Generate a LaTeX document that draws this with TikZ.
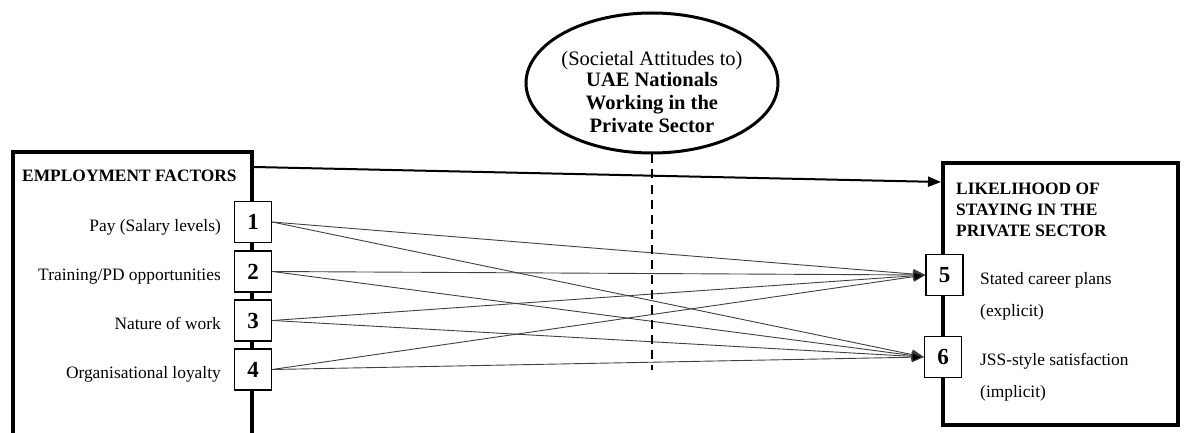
\documentclass[tikz,border=0pt]{standalone}
\usepackage{fontspec}
\setmainfont{Liberation Serif}
\usetikzlibrary{arrows.meta,shapes.geometric}
\begin{document}
\begin{tikzpicture}[x=1pt,y=-1pt,
  bigbox/.style={draw,line width=4pt,rectangle,inner sep=0pt},
  numbox/.style={draw,line width=1.5pt,fill=white,rectangle,minimum width=37pt,minimum height=41pt,inner sep=0pt,font=\fontsize{23}{23}\selectfont\bfseries},
  lbl/.style={font=\fontsize{17.4}{20}\selectfont,inner sep=0pt},
  ttl/.style={font=\fontsize{17.4}{21}\selectfont\bfseries,inner sep=0pt},
  eltxt/.style={font=\fontsize{20.5}{22.5}\selectfont,inner sep=0pt,anchor=base},
  link/.style={line width=0.9pt,black!75,-{Triangle[length=12pt,width=10pt,fill=black]}},
  mainarrow/.style={line width=2pt,-{Triangle[length=13pt,width=10pt]}},
  dashline/.style={line width=2.5pt,dash pattern=on 9pt off 6pt},
]
\useasboundingbox (0,0) rectangle (1189,433);
\clip (0,0) rectangle (1189,433);

% outer boxes
\node[bigbox,minimum width=239pt,minimum height=290pt] (emp) at (132.5,297) {};
\node[bigbox,minimum width=235pt,minimum height=262pt] (lik) at (1060.5,294) {};

% ellipse
\node[draw,ellipse,line width=3pt,minimum width=252pt,minimum height=140pt,inner sep=0pt] (soc) at (652,83) {};
\node[eltxt] (s1) at (652,66) {(Societal Attitudes to)};
\node[eltxt,font=\fontsize{20.5}{22.5}\selectfont\bfseries] (s2) at (652,87) {UAE Nationals};
\node[eltxt,font=\fontsize{20.5}{22.5}\selectfont\bfseries] (s3) at (652,110) {Working in the};
\node[eltxt,font=\fontsize{20.5}{22.5}\selectfont\bfseries] (s4) at (652,133) {Private Sector};

% titles
\node[ttl,anchor=base west] (empt) at (22,182) {EMPLOYMENT FACTORS};
\node[ttl,anchor=base west] (lt1) at (956,194) {LIKELIHOOD OF};
\node[ttl,anchor=base west] (lt2) at (956,215) {STAYING IN THE};
\node[ttl,anchor=base west] (lt3) at (956,236) {PRIVATE SECTOR};

% number boxes
\node[numbox] (n1) at (253,222) {1};
\node[numbox] (n2) at (253,271.5) {2};
\node[numbox] (n3) at (253,320.5) {3};
\node[numbox] (n4) at (253,369.5) {4};
\node[numbox] (n5) at (944.5,275) {5};
\node[numbox] (n6) at (943,357) {6};

% left labels
\node[lbl,anchor=base east] (l1) at (221,231.5) {Pay (Salary levels)};
\node[lbl,anchor=base east] (l2) at (221,280) {Training/PD opportunities};
\node[lbl,anchor=base east] (l3) at (221,329) {Nature of work};
\node[lbl,anchor=base east] (l4) at (221,378) {Organisational loyalty};

% right labels
\node[lbl,anchor=base west] (r1) at (980,284) {Stated career plans};
\node[lbl,anchor=base west] (r2) at (980,316) {(explicit)};
\node[lbl,anchor=base west] (r3) at (980,365) {JSS-style satisfaction};
\node[lbl,anchor=base west] (r4) at (980,397) {(implicit)};

% connectors
\foreach \s in {1,2,3,4}{
  \foreach \t in {5,6}{
    \draw[link] (n\s.east) -- (n\t.west);
  }
}
\draw[mainarrow] ([yshift=-17pt]emp.north east) -- ([yshift=-21pt]lik.north west);
\coordinate (dend) at (652,370);
\draw[dashline] (soc.south) -- (dend);
\end{tikzpicture}
\end{document}
